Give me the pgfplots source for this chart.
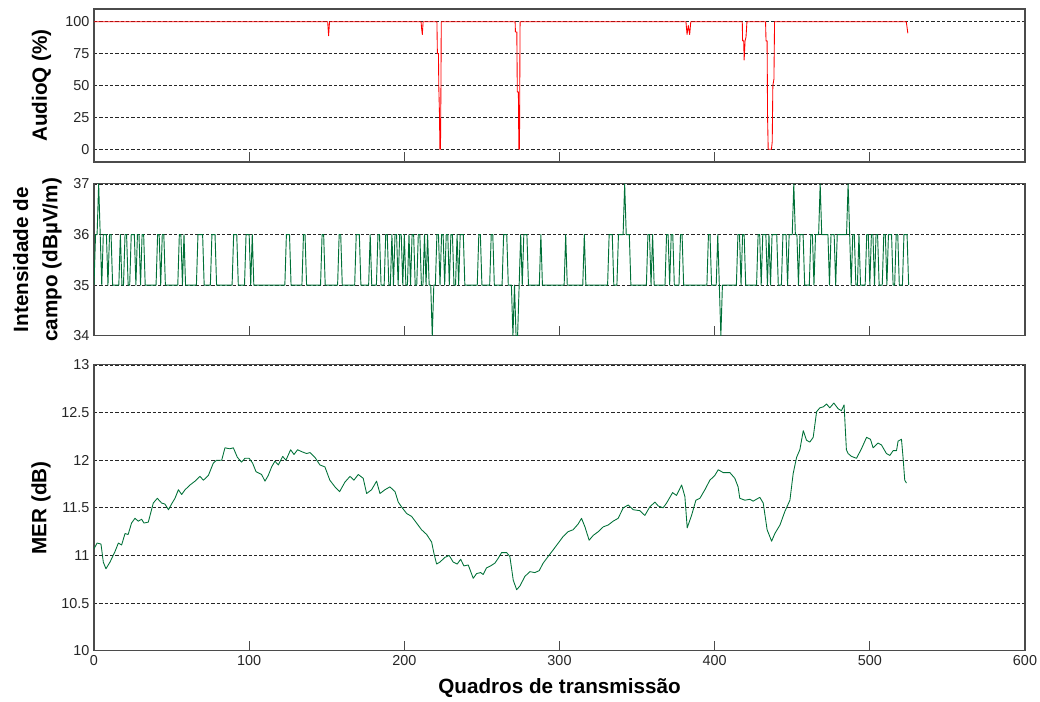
\documentclass[border=0pt]{standalone}
\usepackage{pgfplots}
\pgfplotsset{compat=1.18}
\usepackage{fontspec}
\setmainfont{Liberation Sans}

\definecolor{audiored}{RGB}{255,0,0}
\definecolor{fieldgreen}{RGB}{0,112,55}
\definecolor{framegray}{RGB}{75,75,75}

\pgfplotsset{
  panel/.style={
    scale only axis,
    width=698.25pt,
    anchor=south west,
    xmin=0, xmax=600,
    xtick={0,100,...,600},
    xtick pos=left,
    tick align=inside,
    major tick length=7.5pt,
    xtick style={framegray, line width=0.8pt},
    ytick style={draw=none},
    ymajorgrids,
    grid style={dash pattern=on 2.5pt off 1.5pt, black!85, line width=0.65pt},
    axis line style={framegray, line width=0.8pt},
    tick label style={font=\fontsize{10.8}{12}\selectfont, black!85},
    /pgf/number format/assume math mode=true,
    every axis y label/.style={rotate=90, anchor=center,
      font=\fontsize{15.5}{22}\selectfont\bfseries, align=center},
    every axis x label/.style={anchor=center,
      font=\fontsize{15.5}{22}\selectfont\bfseries},
  }
}

\begin{document}
\begin{tikzpicture}
\useasboundingbox (0pt,0pt) rectangle (780pt,526.5pt);

% Audio quality
\begin{axis}[panel,
  at={(70.5pt,405pt)}, height=114.75pt,
  ymin=-10, ymax=110, ytick={0,25,50,75,100},
  xticklabels={},
  ylabel={AudioQ (\%)},
  ylabel style={at={(axis description cs:-0.0564,0.5)}}]
\addplot[audiored, line width=0.65pt, line join=round] coordinates {
(0,100) (150.6,100) (151.2,89) (151.8,100)
(210.8,100) (211.1,95) (211.6,90) (212.1,100)
(221,100) (221.3,75) (222,75) (222.2,50) (222.7,25) (222.9,0) (223.3,0) (223.6,50) (223.8,100)
(271.4,100) (271.6,92) (272.5,92) (272.8,45) (273.5,45) (273.8,0) (274.2,0) (274.4,50) (274.6,100)
(381.5,100) (382.2,90) (383,97) (383.9,90) (384.6,100)
(417.8,100) (418,85) (418.7,85) (419,70) (419.6,85) (420.2,88) (420.8,100)
(432.8,100) (433.1,85) (433.8,85) (434.1,25) (434.5,0) (436.6,0) (437.1,6) (437.5,50) (438.2,55) (438.6,100)
(523.5,100) (524.5,91)
};
\end{axis}

% Field strength
\begin{axis}[panel,
  at={(70.5pt,274.725pt)}, height=113.8pt,
  ymin=34, ymax=37, ytick={34,35,36,37},
  xticklabels={},
  ylabel={Intensidade de\\campo (dBµV/m)},
  ylabel style={at={(axis description cs:-0.0607,0.5)}}]
\addplot[fieldgreen, line width=0.7pt, line join=round] coordinates {
(0,35) (1,36) (2,36) (3,37) (4,36) (5,35) (6,36) (8,36) (9,35) (10,36) (11,36) (12,35)
(16,35) (17,36) (18,35) (19,35) (20,36) (21,36) (22,35) (23,35) (24,36) (26,36) (27,35)
(28,36) (29,36) (30,35) (31,36) (32,36) (33,35) (40,35) (41,36) (42,36) (43,35) (44,36)
(45,36) (46,35) (54,35) (55,36) (56,36) (57,35) (58,36) (59,35) (66,35) (67,36) (70,36)
(71,35) (75,35) (76,36) (78,36) (79,35) (89,35) (90,36) (92,36) (93,35) (97,35) (98,36)
(100,36) (101,35) (102,36) (103,35) (123,35) (124,36) (126,36) (127,35) (134,35) (135,36)
(136,36) (137,35) (146,35) (147,36) (148,36) (149,35) (157,35) (158,36) (159,36) (160,35)
(168,35) (169,36) (171,36) (172,35) (177,35) (178,36) (179,35) (182,35) (183,36) (184,36)
(185,35) (187,35) (188,36) (189,36) (190,35) (191,35) (192,36) (193,35) (194,36) (195,36)
(196,35) (197,36) (198,36) (199,35) (200,36) (201,35) (202,35) (203,36) (204,35) (205,36)
(206,36) (207,35) (208,35) (209,36) (210,36) (211,35) (212,35) (213,36) (214,35) (215,36)
(216,35) (217,35) (218,34) (219,35) (220,35) (221,36) (222,36) (223,35) (224,36) (225,36)
(226,35) (227,36) (228,36) (229,35) (230,36) (231,36) (232,35) (233,35) (234,36) (235,35)
(236,36) (238,36) (239,35) (247,35) (248,36) (249,36) (250,35) (255,35) (256,36) (257,36)
(258,35) (263,35) (264,36) (266,36) (267,35) (269,35) (270,34) (271,35) (272,34) (273,34)
(274,35) (275,36) (276,35) (277,36) (279,36) (280,35) (287,35) (288,36) (289,35) (303,35)
(304,36) (305,35) (315,35) (316,36) (317,35) (331,35) (332,36) (334,36) (335,35) (337,35)
(338,36) (341,36) (342,37) (343,36) (345,36) (346,35) (356,35) (357,36) (358,36) (359,35)
(360,36) (361,35) (368,35) (369,36) (370,36) (371,35) (372,36) (373,36) (374,35) (377,35)
(378,36) (379,36) (380,35) (395,35) (396,36) (397,36) (398,35) (401,35) (402,36) (403,35)
(404,34) (405,35) (414,35) (415,36) (416,36) (417,35) (418,36) (419,36) (420,35) (427,35)
(428,36) (429,36) (430,35) (431,36) (433,36) (434,35) (435,36) (436,35) (437,36) (440,36)
(441,35) (443,35) (444,36) (446,36) (447,35) (448,36) (450,36) (451,37) (452,36) (453,36)
(454,35) (455,36) (457,36) (458,35) (461,35) (462,36) (463,36) (464,35) (465,36) (467,36)
(468,37) (469,36) (473,36) (474,35) (475,36) (477,36) (478,35) (479,36) (485,36) (486,37)
(487,36) (488,35) (489,36) (490,36) (491,35) (492,35) (493,36) (494,35) (497,35) (498,36)
(499,36) (500,35) (501,36) (502,36) (503,35) (504,36) (505,36) (506,35) (508,35) (509,36)
(510,36) (511,35) (512,36) (514,36) (515,35) (516,35) (517,36) (518,36) (519,35) (521,35)
(522,36) (524,36) (525,35)
};
\end{axis}

% Modulation error ratio
\begin{axis}[panel,
  at={(70.5pt,38.475pt)}, height=214.3pt,
  ymin=10, ymax=13, ytick={10,10.5,11,11.5,12,12.5,13},
  ylabel={MER (dB)},
  ylabel style={at={(axis description cs:-0.057,0.5)}},
  xlabel={Quadros de transmissão},
  xlabel style={at={(axis description cs:0.5,-0.1307)}}]
\addplot[fieldgreen, line width=0.65pt, line join=round] coordinates {
(0,11.07) (2,11.13) (4.5,11.12) (6,10.93) (7.7,10.86) (10.3,10.93) (13.5,11.04) (15.7,11.13)
(17.8,11.11) (20,11.23) (22,11.22) (24.2,11.34) (26.4,11.39) (28.5,11.36) (30.7,11.38)
(32.2,11.34) (35,11.35) (38.2,11.55) (40.8,11.60) (43.6,11.55) (45.7,11.54) (48,11.48)
(50,11.54) (52.2,11.60) (54.4,11.69) (56.5,11.64) (58.7,11.69) (61.9,11.74) (65.1,11.78)
(68.3,11.83) (70.5,11.79) (73.7,11.84) (76.9,11.97) (79,12.0) (82.3,12.0) (84.4,12.13)
(87.6,12.12) (89.8,12.13) (92.4,12.03) (95.1,11.98) (97.3,12.02) (100,12.02) (102.2,11.97)
(104.4,11.88) (108,11.85) (110.2,11.78) (112.3,11.84) (114.5,11.93) (116.6,11.99)
(118.8,11.95) (121.6,12.04) (123.7,12.0) (126.7,12.11) (128.9,12.06) (131.2,12.11)
(133.8,12.09) (137,12.07) (139.2,12.08) (142.4,12.03) (145.6,11.95) (148.8,11.93)
(152,11.79) (155.3,11.72) (158.3,11.67) (161.7,11.77) (165,11.83) (167.5,11.79)
(170.3,11.85) (173.5,11.81) (175.7,11.65) (178.9,11.69) (182.1,11.78) (184.3,11.65)
(187.5,11.69) (190.7,11.72) (194,11.67) (196.1,11.56) (198.2,11.51) (201.5,11.44)
(204.7,11.41) (207.9,11.34) (211.1,11.27) (214.4,11.22) (217.6,11.14) (219.1,11.02)
(220.8,10.91) (222.9,10.93) (226.2,10.98) (228.9,11.00) (231.5,10.93) (234.1,10.91)
(236.3,10.96) (238.4,10.89) (241.2,10.90) (244.4,10.76) (246.6,10.81) (249.2,10.82)
(250.8,10.80) (253,10.87) (255.6,10.89) (258.4,10.92) (260.5,10.97) (262.7,11.03)
(265.9,11.03) (268,10.99) (270.2,10.74) (272.4,10.64) (274.5,10.68) (277.7,10.78)
(280.9,10.83) (284.1,10.82) (286.9,10.84) (289.5,10.92) (292.7,10.99) (296,11.06)
(299.2,11.13) (302.4,11.20) (305.6,11.25) (308.8,11.27) (312,11.33) (314.2,11.39)
(316.4,11.30) (319.1,11.16) (321.7,11.21) (325,11.25) (328.2,11.30) (331.4,11.32)
(334.6,11.36) (337.8,11.39) (341.1,11.50) (344.3,11.53) (347.5,11.48) (351.8,11.47)
(355,11.42) (358.2,11.51) (361.5,11.56) (363.6,11.52) (366.8,11.50) (369,11.55)
(372.9,11.66) (375.4,11.63) (378.7,11.74) (380.8,11.62) (382.3,11.29) (385.1,11.42)
(387.9,11.58) (390.5,11.60) (393.7,11.69) (396.9,11.79) (400.1,11.84) (402.3,11.90)
(405.5,11.87) (409.8,11.87) (413,11.81) (415.1,11.72) (416.2,11.60) (419.5,11.58)
(422.7,11.59) (424.8,11.57) (429.1,11.61) (431.3,11.55) (433.8,11.27) (436.7,11.15)
(438.8,11.23) (442.1,11.32) (445.2,11.46) (448.5,11.58) (450.6,11.86) (452.8,12.03)
(454.9,12.11) (457.1,12.31) (459.2,12.21) (461.3,12.19) (463.5,12.24) (465.7,12.51)
(467.8,12.55) (470,12.56) (472.1,12.59) (474.2,12.55) (476.8,12.60) (479.6,12.54)
(481.7,12.52) (483.4,12.58) (484.9,12.11) (486,12.07) (488.2,12.04) (491.4,12.02)
(494.6,12.12) (497.9,12.24) (500.4,12.22) (502.1,12.13) (505.3,12.18) (507.5,12.16)
(510.7,12.07) (512.9,12.05) (515,12.10) (517.2,12.10) (518.2,12.20) (520.4,12.22)
(521.4,12.03) (522.5,11.79) (523.6,11.76)
};
\end{axis}
\end{tikzpicture}
\end{document}
